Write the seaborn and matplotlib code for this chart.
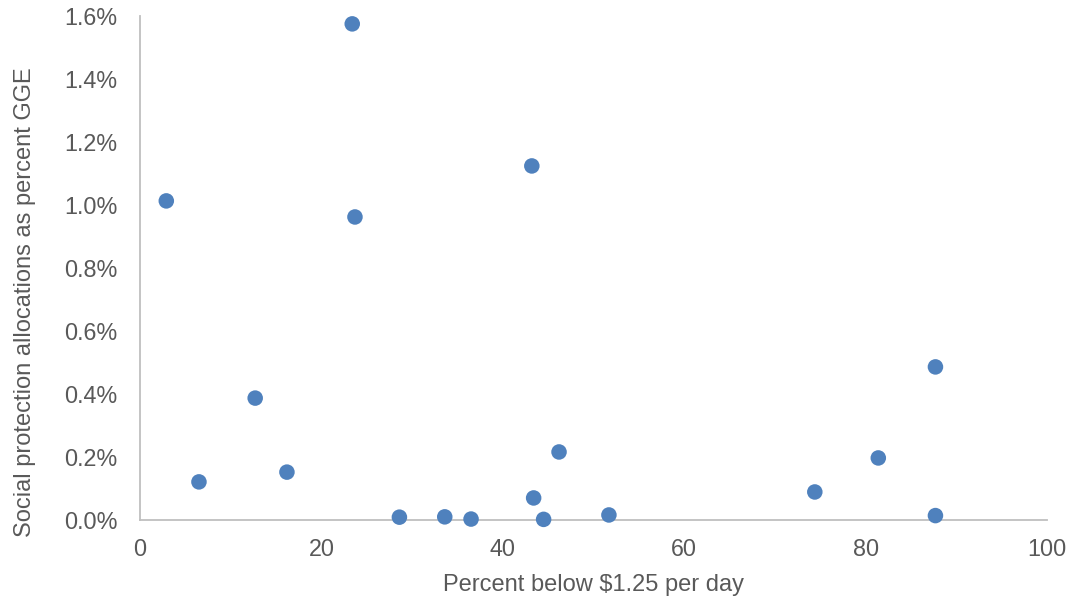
import matplotlib
matplotlib.use("Agg")
import matplotlib.pyplot as plt
import seaborn as sns
import pandas as pd
from matplotlib.ticker import FuncFormatter

# Poverty headcount (% below $1.25/day) vs social protection share of GGE (%)
poverty_pct = [2.9, 6.5, 12.7, 16.2, 23.4, 23.7, 28.6, 33.6, 36.5, 43.2,
               43.4, 44.5, 46.2, 51.7, 74.4, 81.4, 87.7, 87.7]
social_protection_pct = [1.013, 0.121, 0.387, 0.152, 1.575, 0.962, 0.009, 0.010,
                         0.003, 1.124, 0.070, 0.002, 0.216, 0.016, 0.089, 0.197,
                         0.486, 0.014]

x_ticks = [0, 20, 40, 60, 80, 100]
y_ticks = [0.0, 0.2, 0.4, 0.6, 0.8, 1.0, 1.2, 1.4, 1.6]

df = pd.DataFrame({"poverty": poverty_pct, "sp": social_protection_pct})

sns.set_theme(style="white")
plt.rcParams["font.family"] = ["Liberation Sans", "DejaVu Sans"]

fig = plt.figure(figsize=(10.75, 6), dpi=100)
ax = fig.add_axes([140 / 1075, 80 / 600, 907 / 1075, 504 / 600])

sns.scatterplot(data=df, x="poverty", y="sp", ax=ax, color="#4f81bd",
                s=125, edgecolor="none", clip_on=False, zorder=3)

ax.set_xlim(0, 100)
ax.set_ylim(0, 1.6)
ax.set_xticks(x_ticks)
ax.set_yticks(y_ticks)
ax.yaxis.set_major_formatter(FuncFormatter(lambda v, _: f"{v:.1f}%"))

grey_text = "#595959"
ax.tick_params(axis="both", length=0, labelsize=16.8, colors=grey_text)
ax.tick_params(axis="y", pad=16)
ax.tick_params(axis="x", pad=13)

for side in ["top", "right"]:
    ax.spines[side].set_visible(False)
for side in ["left", "bottom"]:
    ax.spines[side].set_color("#bfbfbf")
    ax.spines[side].set_linewidth(1.3)

ax.set_xlabel("Percent below $1.25 per day", fontsize=17, color=grey_text, labelpad=9)
ax.set_ylabel("Social protection allocations as percent GGE", fontsize=17,
              color=grey_text)
ax.yaxis.set_label_coords(-0.1147, 0.4315)

fig.savefig("out.png", dpi=100)
